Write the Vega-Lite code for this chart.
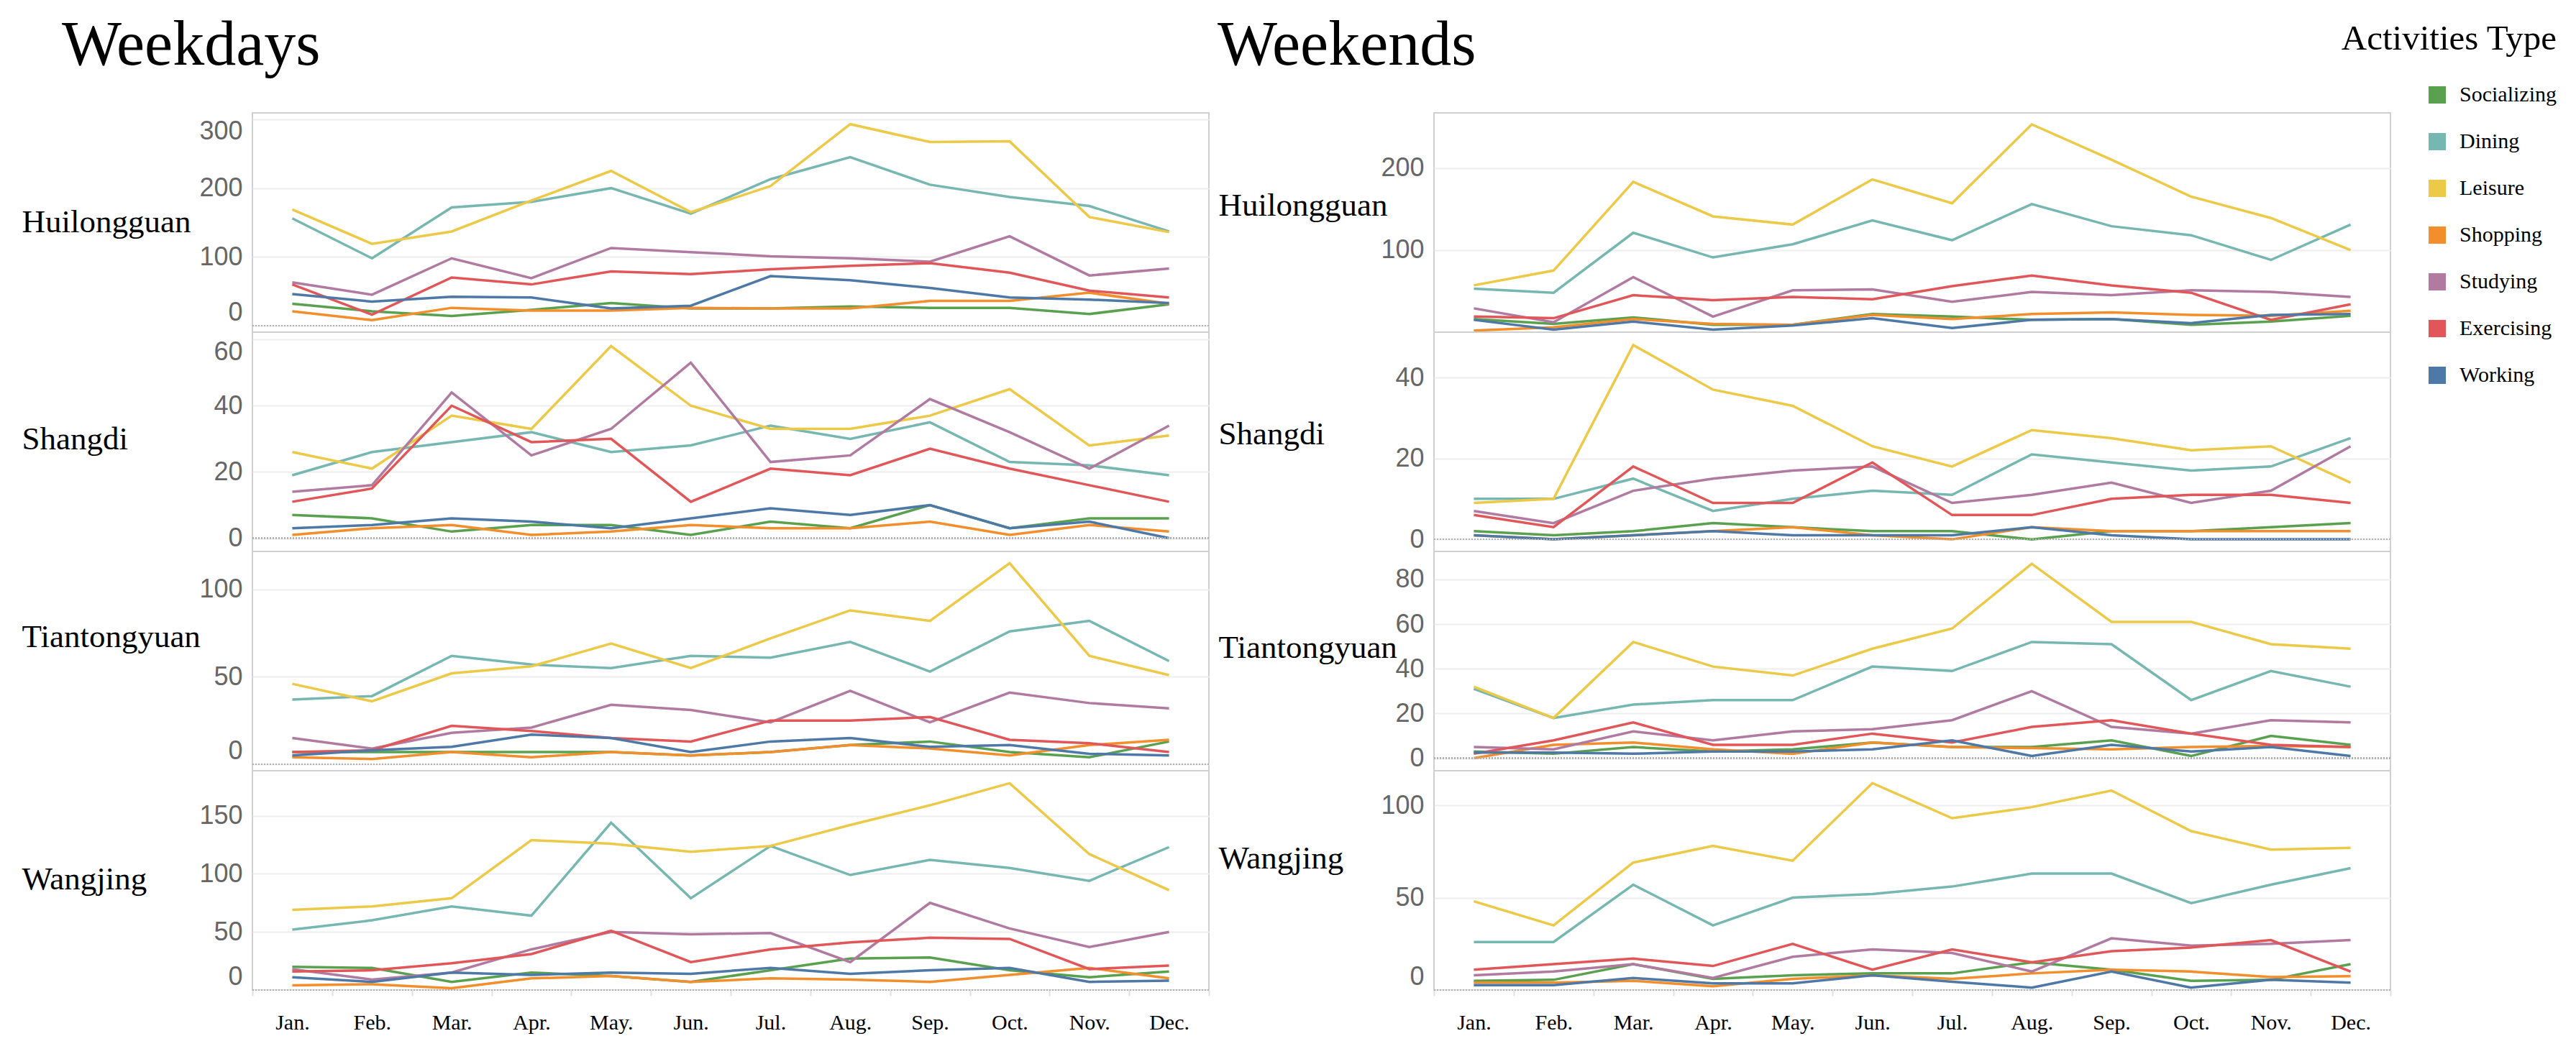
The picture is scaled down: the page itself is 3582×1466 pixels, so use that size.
{
"$schema":"https://vega.github.io/schema/vega-lite/v6.json",
"background":"white",
"padding":{"left":29,"top":20,"right":0,"bottom":0},
"datasets":{
"wd_hui":[
{"activity":"Socializing","month":"Jan.","value":32},{"activity":"Socializing","month":"Feb.","value":21},{"activity":"Socializing","month":"Mar.","value":14},{"activity":"Socializing","month":"Apr.","value":23},{"activity":"Socializing","month":"May.","value":33},{"activity":"Socializing","month":"Jun.","value":25},{"activity":"Socializing","month":"Jul.","value":25},{"activity":"Socializing","month":"Aug.","value":28},{"activity":"Socializing","month":"Sep.","value":26},{"activity":"Socializing","month":"Oct.","value":26},{"activity":"Socializing","month":"Nov.","value":17},{"activity":"Socializing","month":"Dec.","value":31},
{"activity":"Dining","month":"Jan.","value":156},{"activity":"Dining","month":"Feb.","value":98},{"activity":"Dining","month":"Mar.","value":172},{"activity":"Dining","month":"Apr.","value":180},{"activity":"Dining","month":"May.","value":200},{"activity":"Dining","month":"Jun.","value":163},{"activity":"Dining","month":"Jul.","value":213},{"activity":"Dining","month":"Aug.","value":245},{"activity":"Dining","month":"Sep.","value":205},{"activity":"Dining","month":"Oct.","value":187},{"activity":"Dining","month":"Nov.","value":174},{"activity":"Dining","month":"Dec.","value":137},
{"activity":"Leisure","month":"Jan.","value":169},{"activity":"Leisure","month":"Feb.","value":119},{"activity":"Leisure","month":"Mar.","value":137},{"activity":"Leisure","month":"Apr.","value":182},{"activity":"Leisure","month":"May.","value":225},{"activity":"Leisure","month":"Jun.","value":165},{"activity":"Leisure","month":"Jul.","value":203},{"activity":"Leisure","month":"Aug.","value":293},{"activity":"Leisure","month":"Sep.","value":267},{"activity":"Leisure","month":"Oct.","value":268},{"activity":"Leisure","month":"Nov.","value":158},{"activity":"Leisure","month":"Dec.","value":136},
{"activity":"Shopping","month":"Jan.","value":21},{"activity":"Shopping","month":"Feb.","value":8},{"activity":"Shopping","month":"Mar.","value":26},{"activity":"Shopping","month":"Apr.","value":22},{"activity":"Shopping","month":"May.","value":22},{"activity":"Shopping","month":"Jun.","value":26},{"activity":"Shopping","month":"Jul.","value":25},{"activity":"Shopping","month":"Aug.","value":25},{"activity":"Shopping","month":"Sep.","value":36},{"activity":"Shopping","month":"Oct.","value":36},{"activity":"Shopping","month":"Nov.","value":48},{"activity":"Shopping","month":"Dec.","value":32},
{"activity":"Studying","month":"Jan.","value":63},{"activity":"Studying","month":"Feb.","value":45},{"activity":"Studying","month":"Mar.","value":98},{"activity":"Studying","month":"Apr.","value":69},{"activity":"Studying","month":"May.","value":113},{"activity":"Studying","month":"Jun.","value":107},{"activity":"Studying","month":"Jul.","value":101},{"activity":"Studying","month":"Aug.","value":98},{"activity":"Studying","month":"Sep.","value":93},{"activity":"Studying","month":"Oct.","value":130},{"activity":"Studying","month":"Nov.","value":73},{"activity":"Studying","month":"Dec.","value":83},
{"activity":"Exercising","month":"Jan.","value":60},{"activity":"Exercising","month":"Feb.","value":16},{"activity":"Exercising","month":"Mar.","value":70},{"activity":"Exercising","month":"Apr.","value":60},{"activity":"Exercising","month":"May.","value":79},{"activity":"Exercising","month":"Jun.","value":75},{"activity":"Exercising","month":"Jul.","value":82},{"activity":"Exercising","month":"Aug.","value":87},{"activity":"Exercising","month":"Sep.","value":91},{"activity":"Exercising","month":"Oct.","value":77},{"activity":"Exercising","month":"Nov.","value":51},{"activity":"Exercising","month":"Dec.","value":41},
{"activity":"Working","month":"Jan.","value":46},{"activity":"Working","month":"Feb.","value":35},{"activity":"Working","month":"Mar.","value":42},{"activity":"Working","month":"Apr.","value":41},{"activity":"Working","month":"May.","value":25},{"activity":"Working","month":"Jun.","value":29},{"activity":"Working","month":"Jul.","value":72},{"activity":"Working","month":"Aug.","value":66},{"activity":"Working","month":"Sep.","value":55},{"activity":"Working","month":"Oct.","value":41},{"activity":"Working","month":"Nov.","value":38},{"activity":"Working","month":"Dec.","value":33}
],
"wd_sha":[
{"activity":"Socializing","month":"Jan.","value":7},{"activity":"Socializing","month":"Feb.","value":6},{"activity":"Socializing","month":"Mar.","value":2},{"activity":"Socializing","month":"Apr.","value":4},{"activity":"Socializing","month":"May.","value":4},{"activity":"Socializing","month":"Jun.","value":1},{"activity":"Socializing","month":"Jul.","value":5},{"activity":"Socializing","month":"Aug.","value":3},{"activity":"Socializing","month":"Sep.","value":10},{"activity":"Socializing","month":"Oct.","value":3},{"activity":"Socializing","month":"Nov.","value":6},{"activity":"Socializing","month":"Dec.","value":6},
{"activity":"Dining","month":"Jan.","value":19},{"activity":"Dining","month":"Feb.","value":26},{"activity":"Dining","month":"Mar.","value":29},{"activity":"Dining","month":"Apr.","value":32},{"activity":"Dining","month":"May.","value":26},{"activity":"Dining","month":"Jun.","value":28},{"activity":"Dining","month":"Jul.","value":34},{"activity":"Dining","month":"Aug.","value":30},{"activity":"Dining","month":"Sep.","value":35},{"activity":"Dining","month":"Oct.","value":23},{"activity":"Dining","month":"Nov.","value":22},{"activity":"Dining","month":"Dec.","value":19},
{"activity":"Leisure","month":"Jan.","value":26},{"activity":"Leisure","month":"Feb.","value":21},{"activity":"Leisure","month":"Mar.","value":37},{"activity":"Leisure","month":"Apr.","value":33},{"activity":"Leisure","month":"May.","value":58},{"activity":"Leisure","month":"Jun.","value":40},{"activity":"Leisure","month":"Jul.","value":33},{"activity":"Leisure","month":"Aug.","value":33},{"activity":"Leisure","month":"Sep.","value":37},{"activity":"Leisure","month":"Oct.","value":45},{"activity":"Leisure","month":"Nov.","value":28},{"activity":"Leisure","month":"Dec.","value":31},
{"activity":"Shopping","month":"Jan.","value":1},{"activity":"Shopping","month":"Feb.","value":3},{"activity":"Shopping","month":"Mar.","value":4},{"activity":"Shopping","month":"Apr.","value":1},{"activity":"Shopping","month":"May.","value":2},{"activity":"Shopping","month":"Jun.","value":4},{"activity":"Shopping","month":"Jul.","value":3},{"activity":"Shopping","month":"Aug.","value":3},{"activity":"Shopping","month":"Sep.","value":5},{"activity":"Shopping","month":"Oct.","value":1},{"activity":"Shopping","month":"Nov.","value":4},{"activity":"Shopping","month":"Dec.","value":2},
{"activity":"Studying","month":"Jan.","value":14},{"activity":"Studying","month":"Feb.","value":16},{"activity":"Studying","month":"Mar.","value":44},{"activity":"Studying","month":"Apr.","value":25},{"activity":"Studying","month":"May.","value":33},{"activity":"Studying","month":"Jun.","value":53},{"activity":"Studying","month":"Jul.","value":23},{"activity":"Studying","month":"Aug.","value":25},{"activity":"Studying","month":"Sep.","value":42},{"activity":"Studying","month":"Oct.","value":32},{"activity":"Studying","month":"Nov.","value":21},{"activity":"Studying","month":"Dec.","value":34},
{"activity":"Exercising","month":"Jan.","value":11},{"activity":"Exercising","month":"Feb.","value":15},{"activity":"Exercising","month":"Mar.","value":40},{"activity":"Exercising","month":"Apr.","value":29},{"activity":"Exercising","month":"May.","value":30},{"activity":"Exercising","month":"Jun.","value":11},{"activity":"Exercising","month":"Jul.","value":21},{"activity":"Exercising","month":"Aug.","value":19},{"activity":"Exercising","month":"Sep.","value":27},{"activity":"Exercising","month":"Oct.","value":21},{"activity":"Exercising","month":"Nov.","value":16},{"activity":"Exercising","month":"Dec.","value":11},
{"activity":"Working","month":"Jan.","value":3},{"activity":"Working","month":"Feb.","value":4},{"activity":"Working","month":"Mar.","value":6},{"activity":"Working","month":"Apr.","value":5},{"activity":"Working","month":"May.","value":3},{"activity":"Working","month":"Jun.","value":6},{"activity":"Working","month":"Jul.","value":9},{"activity":"Working","month":"Aug.","value":7},{"activity":"Working","month":"Sep.","value":10},{"activity":"Working","month":"Oct.","value":3},{"activity":"Working","month":"Nov.","value":5},{"activity":"Working","month":"Dec.","value":0}
],
"wd_tia":[
{"activity":"Socializing","month":"Jan.","value":7},{"activity":"Socializing","month":"Feb.","value":7},{"activity":"Socializing","month":"Mar.","value":7},{"activity":"Socializing","month":"Apr.","value":7},{"activity":"Socializing","month":"May.","value":7},{"activity":"Socializing","month":"Jun.","value":5},{"activity":"Socializing","month":"Jul.","value":7},{"activity":"Socializing","month":"Aug.","value":11},{"activity":"Socializing","month":"Sep.","value":13},{"activity":"Socializing","month":"Oct.","value":7},{"activity":"Socializing","month":"Nov.","value":4},{"activity":"Socializing","month":"Dec.","value":13},
{"activity":"Dining","month":"Jan.","value":37},{"activity":"Dining","month":"Feb.","value":39},{"activity":"Dining","month":"Mar.","value":62},{"activity":"Dining","month":"Apr.","value":57},{"activity":"Dining","month":"May.","value":55},{"activity":"Dining","month":"Jun.","value":62},{"activity":"Dining","month":"Jul.","value":61},{"activity":"Dining","month":"Aug.","value":70},{"activity":"Dining","month":"Sep.","value":53},{"activity":"Dining","month":"Oct.","value":76},{"activity":"Dining","month":"Nov.","value":82},{"activity":"Dining","month":"Dec.","value":59},
{"activity":"Leisure","month":"Jan.","value":46},{"activity":"Leisure","month":"Feb.","value":36},{"activity":"Leisure","month":"Mar.","value":52},{"activity":"Leisure","month":"Apr.","value":56},{"activity":"Leisure","month":"May.","value":69},{"activity":"Leisure","month":"Jun.","value":55},{"activity":"Leisure","month":"Jul.","value":72},{"activity":"Leisure","month":"Aug.","value":88},{"activity":"Leisure","month":"Sep.","value":82},{"activity":"Leisure","month":"Oct.","value":115},{"activity":"Leisure","month":"Nov.","value":62},{"activity":"Leisure","month":"Dec.","value":51},
{"activity":"Shopping","month":"Jan.","value":4},{"activity":"Shopping","month":"Feb.","value":3},{"activity":"Shopping","month":"Mar.","value":7},{"activity":"Shopping","month":"Apr.","value":4},{"activity":"Shopping","month":"May.","value":7},{"activity":"Shopping","month":"Jun.","value":5},{"activity":"Shopping","month":"Jul.","value":7},{"activity":"Shopping","month":"Aug.","value":11},{"activity":"Shopping","month":"Sep.","value":9},{"activity":"Shopping","month":"Oct.","value":5},{"activity":"Shopping","month":"Nov.","value":11},{"activity":"Shopping","month":"Dec.","value":14},
{"activity":"Studying","month":"Jan.","value":15},{"activity":"Studying","month":"Feb.","value":9},{"activity":"Studying","month":"Mar.","value":18},{"activity":"Studying","month":"Apr.","value":21},{"activity":"Studying","month":"May.","value":34},{"activity":"Studying","month":"Jun.","value":31},{"activity":"Studying","month":"Jul.","value":24},{"activity":"Studying","month":"Aug.","value":42},{"activity":"Studying","month":"Sep.","value":24},{"activity":"Studying","month":"Oct.","value":41},{"activity":"Studying","month":"Nov.","value":35},{"activity":"Studying","month":"Dec.","value":32},
{"activity":"Exercising","month":"Jan.","value":7},{"activity":"Exercising","month":"Feb.","value":8},{"activity":"Exercising","month":"Mar.","value":22},{"activity":"Exercising","month":"Apr.","value":19},{"activity":"Exercising","month":"May.","value":15},{"activity":"Exercising","month":"Jun.","value":13},{"activity":"Exercising","month":"Jul.","value":25},{"activity":"Exercising","month":"Aug.","value":25},{"activity":"Exercising","month":"Sep.","value":27},{"activity":"Exercising","month":"Oct.","value":14},{"activity":"Exercising","month":"Nov.","value":12},{"activity":"Exercising","month":"Dec.","value":7},
{"activity":"Working","month":"Jan.","value":5},{"activity":"Working","month":"Feb.","value":8},{"activity":"Working","month":"Mar.","value":10},{"activity":"Working","month":"Apr.","value":17},{"activity":"Working","month":"May.","value":15},{"activity":"Working","month":"Jun.","value":7},{"activity":"Working","month":"Jul.","value":13},{"activity":"Working","month":"Aug.","value":15},{"activity":"Working","month":"Sep.","value":10},{"activity":"Working","month":"Oct.","value":11},{"activity":"Working","month":"Nov.","value":6},{"activity":"Working","month":"Dec.","value":5}
],
"wd_wan":[
{"activity":"Socializing","month":"Jan.","value":20},{"activity":"Socializing","month":"Feb.","value":19},{"activity":"Socializing","month":"Mar.","value":7},{"activity":"Socializing","month":"Apr.","value":15},{"activity":"Socializing","month":"May.","value":12},{"activity":"Socializing","month":"Jun.","value":7},{"activity":"Socializing","month":"Jul.","value":17},{"activity":"Socializing","month":"Aug.","value":27},{"activity":"Socializing","month":"Sep.","value":28},{"activity":"Socializing","month":"Oct.","value":17},{"activity":"Socializing","month":"Nov.","value":11},{"activity":"Socializing","month":"Dec.","value":16},
{"activity":"Dining","month":"Jan.","value":52},{"activity":"Dining","month":"Feb.","value":60},{"activity":"Dining","month":"Mar.","value":72},{"activity":"Dining","month":"Apr.","value":64},{"activity":"Dining","month":"May.","value":144},{"activity":"Dining","month":"Jun.","value":79},{"activity":"Dining","month":"Jul.","value":124},{"activity":"Dining","month":"Aug.","value":99},{"activity":"Dining","month":"Sep.","value":112},{"activity":"Dining","month":"Oct.","value":105},{"activity":"Dining","month":"Nov.","value":94},{"activity":"Dining","month":"Dec.","value":123},
{"activity":"Leisure","month":"Jan.","value":69},{"activity":"Leisure","month":"Feb.","value":72},{"activity":"Leisure","month":"Mar.","value":79},{"activity":"Leisure","month":"Apr.","value":129},{"activity":"Leisure","month":"May.","value":126},{"activity":"Leisure","month":"Jun.","value":119},{"activity":"Leisure","month":"Jul.","value":124},{"activity":"Leisure","month":"Aug.","value":142},{"activity":"Leisure","month":"Sep.","value":159},{"activity":"Leisure","month":"Oct.","value":178},{"activity":"Leisure","month":"Nov.","value":117},{"activity":"Leisure","month":"Dec.","value":86},
{"activity":"Shopping","month":"Jan.","value":4},{"activity":"Shopping","month":"Feb.","value":5},{"activity":"Shopping","month":"Mar.","value":1.5},{"activity":"Shopping","month":"Apr.","value":10},{"activity":"Shopping","month":"May.","value":12},{"activity":"Shopping","month":"Jun.","value":7},{"activity":"Shopping","month":"Jul.","value":10},{"activity":"Shopping","month":"Aug.","value":9},{"activity":"Shopping","month":"Sep.","value":7},{"activity":"Shopping","month":"Oct.","value":13},{"activity":"Shopping","month":"Nov.","value":19},{"activity":"Shopping","month":"Dec.","value":10},
{"activity":"Studying","month":"Jan.","value":18},{"activity":"Studying","month":"Feb.","value":9},{"activity":"Studying","month":"Mar.","value":15},{"activity":"Studying","month":"Apr.","value":35},{"activity":"Studying","month":"May.","value":50},{"activity":"Studying","month":"Jun.","value":48},{"activity":"Studying","month":"Jul.","value":49},{"activity":"Studying","month":"Aug.","value":24},{"activity":"Studying","month":"Sep.","value":75},{"activity":"Studying","month":"Oct.","value":53},{"activity":"Studying","month":"Nov.","value":37},{"activity":"Studying","month":"Dec.","value":50},
{"activity":"Exercising","month":"Jan.","value":16},{"activity":"Exercising","month":"Feb.","value":17},{"activity":"Exercising","month":"Mar.","value":23},{"activity":"Exercising","month":"Apr.","value":31},{"activity":"Exercising","month":"May.","value":51},{"activity":"Exercising","month":"Jun.","value":24},{"activity":"Exercising","month":"Jul.","value":35},{"activity":"Exercising","month":"Aug.","value":41},{"activity":"Exercising","month":"Sep.","value":45},{"activity":"Exercising","month":"Oct.","value":44},{"activity":"Exercising","month":"Nov.","value":18},{"activity":"Exercising","month":"Dec.","value":21},
{"activity":"Working","month":"Jan.","value":11},{"activity":"Working","month":"Feb.","value":7},{"activity":"Working","month":"Mar.","value":15},{"activity":"Working","month":"Apr.","value":13},{"activity":"Working","month":"May.","value":15},{"activity":"Working","month":"Jun.","value":14},{"activity":"Working","month":"Jul.","value":19},{"activity":"Working","month":"Aug.","value":14},{"activity":"Working","month":"Sep.","value":17},{"activity":"Working","month":"Oct.","value":19},{"activity":"Working","month":"Nov.","value":7},{"activity":"Working","month":"Dec.","value":8}
],
"we_hui":[
{"activity":"Socializing","month":"Jan.","value":16},{"activity":"Socializing","month":"Feb.","value":10},{"activity":"Socializing","month":"Mar.","value":18},{"activity":"Socializing","month":"Apr.","value":9},{"activity":"Socializing","month":"May.","value":9},{"activity":"Socializing","month":"Jun.","value":22},{"activity":"Socializing","month":"Jul.","value":19},{"activity":"Socializing","month":"Aug.","value":15},{"activity":"Socializing","month":"Sep.","value":16},{"activity":"Socializing","month":"Oct.","value":9},{"activity":"Socializing","month":"Nov.","value":13},{"activity":"Socializing","month":"Dec.","value":20},
{"activity":"Dining","month":"Jan.","value":53},{"activity":"Dining","month":"Feb.","value":48},{"activity":"Dining","month":"Mar.","value":121},{"activity":"Dining","month":"Apr.","value":91},{"activity":"Dining","month":"May.","value":107},{"activity":"Dining","month":"Jun.","value":136},{"activity":"Dining","month":"Jul.","value":112},{"activity":"Dining","month":"Aug.","value":156},{"activity":"Dining","month":"Sep.","value":129},{"activity":"Dining","month":"Oct.","value":118},{"activity":"Dining","month":"Nov.","value":88},{"activity":"Dining","month":"Dec.","value":131},
{"activity":"Leisure","month":"Jan.","value":57},{"activity":"Leisure","month":"Feb.","value":75},{"activity":"Leisure","month":"Mar.","value":183},{"activity":"Leisure","month":"Apr.","value":141},{"activity":"Leisure","month":"May.","value":131},{"activity":"Leisure","month":"Jun.","value":186},{"activity":"Leisure","month":"Jul.","value":157},{"activity":"Leisure","month":"Aug.","value":253},{"activity":"Leisure","month":"Sep.","value":210},{"activity":"Leisure","month":"Oct.","value":165},{"activity":"Leisure","month":"Nov.","value":139},{"activity":"Leisure","month":"Dec.","value":100},
{"activity":"Shopping","month":"Jan.","value":2},{"activity":"Shopping","month":"Feb.","value":6},{"activity":"Shopping","month":"Mar.","value":16},{"activity":"Shopping","month":"Apr.","value":10},{"activity":"Shopping","month":"May.","value":9},{"activity":"Shopping","month":"Jun.","value":21},{"activity":"Shopping","month":"Jul.","value":16},{"activity":"Shopping","month":"Aug.","value":22},{"activity":"Shopping","month":"Sep.","value":24},{"activity":"Shopping","month":"Oct.","value":21},{"activity":"Shopping","month":"Nov.","value":20},{"activity":"Shopping","month":"Dec.","value":26},
{"activity":"Studying","month":"Jan.","value":29},{"activity":"Studying","month":"Feb.","value":12},{"activity":"Studying","month":"Mar.","value":67},{"activity":"Studying","month":"Apr.","value":19},{"activity":"Studying","month":"May.","value":51},{"activity":"Studying","month":"Jun.","value":52},{"activity":"Studying","month":"Jul.","value":37},{"activity":"Studying","month":"Aug.","value":49},{"activity":"Studying","month":"Sep.","value":45},{"activity":"Studying","month":"Oct.","value":51},{"activity":"Studying","month":"Nov.","value":49},{"activity":"Studying","month":"Dec.","value":43},
{"activity":"Exercising","month":"Jan.","value":19},{"activity":"Exercising","month":"Feb.","value":17},{"activity":"Exercising","month":"Mar.","value":45},{"activity":"Exercising","month":"Apr.","value":39},{"activity":"Exercising","month":"May.","value":43},{"activity":"Exercising","month":"Jun.","value":40},{"activity":"Exercising","month":"Jul.","value":56},{"activity":"Exercising","month":"Aug.","value":69},{"activity":"Exercising","month":"Sep.","value":57},{"activity":"Exercising","month":"Oct.","value":48},{"activity":"Exercising","month":"Nov.","value":15},{"activity":"Exercising","month":"Dec.","value":34},
{"activity":"Working","month":"Jan.","value":15},{"activity":"Working","month":"Feb.","value":3},{"activity":"Working","month":"Mar.","value":13},{"activity":"Working","month":"Apr.","value":3},{"activity":"Working","month":"May.","value":8},{"activity":"Working","month":"Jun.","value":17},{"activity":"Working","month":"Jul.","value":5},{"activity":"Working","month":"Aug.","value":15},{"activity":"Working","month":"Sep.","value":16},{"activity":"Working","month":"Oct.","value":11},{"activity":"Working","month":"Nov.","value":21},{"activity":"Working","month":"Dec.","value":22}
],
"we_sha":[
{"activity":"Socializing","month":"Jan.","value":2},{"activity":"Socializing","month":"Feb.","value":1},{"activity":"Socializing","month":"Mar.","value":2},{"activity":"Socializing","month":"Apr.","value":4},{"activity":"Socializing","month":"May.","value":3},{"activity":"Socializing","month":"Jun.","value":2},{"activity":"Socializing","month":"Jul.","value":2},{"activity":"Socializing","month":"Aug.","value":0},{"activity":"Socializing","month":"Sep.","value":2},{"activity":"Socializing","month":"Oct.","value":2},{"activity":"Socializing","month":"Nov.","value":3},{"activity":"Socializing","month":"Dec.","value":4},
{"activity":"Dining","month":"Jan.","value":10},{"activity":"Dining","month":"Feb.","value":10},{"activity":"Dining","month":"Mar.","value":15},{"activity":"Dining","month":"Apr.","value":7},{"activity":"Dining","month":"May.","value":10},{"activity":"Dining","month":"Jun.","value":12},{"activity":"Dining","month":"Jul.","value":11},{"activity":"Dining","month":"Aug.","value":21},{"activity":"Dining","month":"Sep.","value":19},{"activity":"Dining","month":"Oct.","value":17},{"activity":"Dining","month":"Nov.","value":18},{"activity":"Dining","month":"Dec.","value":25},
{"activity":"Leisure","month":"Jan.","value":9},{"activity":"Leisure","month":"Feb.","value":10},{"activity":"Leisure","month":"Mar.","value":48},{"activity":"Leisure","month":"Apr.","value":37},{"activity":"Leisure","month":"May.","value":33},{"activity":"Leisure","month":"Jun.","value":23},{"activity":"Leisure","month":"Jul.","value":18},{"activity":"Leisure","month":"Aug.","value":27},{"activity":"Leisure","month":"Sep.","value":25},{"activity":"Leisure","month":"Oct.","value":22},{"activity":"Leisure","month":"Nov.","value":23},{"activity":"Leisure","month":"Dec.","value":14},
{"activity":"Shopping","month":"Jan.","value":1},{"activity":"Shopping","month":"Feb.","value":0},{"activity":"Shopping","month":"Mar.","value":1},{"activity":"Shopping","month":"Apr.","value":2},{"activity":"Shopping","month":"May.","value":3},{"activity":"Shopping","month":"Jun.","value":1},{"activity":"Shopping","month":"Jul.","value":0},{"activity":"Shopping","month":"Aug.","value":3},{"activity":"Shopping","month":"Sep.","value":2},{"activity":"Shopping","month":"Oct.","value":2},{"activity":"Shopping","month":"Nov.","value":2},{"activity":"Shopping","month":"Dec.","value":2},
{"activity":"Studying","month":"Jan.","value":7},{"activity":"Studying","month":"Feb.","value":4},{"activity":"Studying","month":"Mar.","value":12},{"activity":"Studying","month":"Apr.","value":15},{"activity":"Studying","month":"May.","value":17},{"activity":"Studying","month":"Jun.","value":18},{"activity":"Studying","month":"Jul.","value":9},{"activity":"Studying","month":"Aug.","value":11},{"activity":"Studying","month":"Sep.","value":14},{"activity":"Studying","month":"Oct.","value":9},{"activity":"Studying","month":"Nov.","value":12},{"activity":"Studying","month":"Dec.","value":23},
{"activity":"Exercising","month":"Jan.","value":6},{"activity":"Exercising","month":"Feb.","value":3},{"activity":"Exercising","month":"Mar.","value":18},{"activity":"Exercising","month":"Apr.","value":9},{"activity":"Exercising","month":"May.","value":9},{"activity":"Exercising","month":"Jun.","value":19},{"activity":"Exercising","month":"Jul.","value":6},{"activity":"Exercising","month":"Aug.","value":6},{"activity":"Exercising","month":"Sep.","value":10},{"activity":"Exercising","month":"Oct.","value":11},{"activity":"Exercising","month":"Nov.","value":11},{"activity":"Exercising","month":"Dec.","value":9},
{"activity":"Working","month":"Jan.","value":1},{"activity":"Working","month":"Feb.","value":0},{"activity":"Working","month":"Mar.","value":1},{"activity":"Working","month":"Apr.","value":2},{"activity":"Working","month":"May.","value":1},{"activity":"Working","month":"Jun.","value":1},{"activity":"Working","month":"Jul.","value":1},{"activity":"Working","month":"Aug.","value":3},{"activity":"Working","month":"Sep.","value":1},{"activity":"Working","month":"Oct.","value":0},{"activity":"Working","month":"Nov.","value":0},{"activity":"Working","month":"Dec.","value":0}
],
"we_tia":[
{"activity":"Socializing","month":"Jan.","value":3},{"activity":"Socializing","month":"Feb.","value":2},{"activity":"Socializing","month":"Mar.","value":5},{"activity":"Socializing","month":"Apr.","value":3},{"activity":"Socializing","month":"May.","value":4},{"activity":"Socializing","month":"Jun.","value":7},{"activity":"Socializing","month":"Jul.","value":5},{"activity":"Socializing","month":"Aug.","value":5},{"activity":"Socializing","month":"Sep.","value":8},{"activity":"Socializing","month":"Oct.","value":1},{"activity":"Socializing","month":"Nov.","value":10},{"activity":"Socializing","month":"Dec.","value":6},
{"activity":"Dining","month":"Jan.","value":31},{"activity":"Dining","month":"Feb.","value":18},{"activity":"Dining","month":"Mar.","value":24},{"activity":"Dining","month":"Apr.","value":26},{"activity":"Dining","month":"May.","value":26},{"activity":"Dining","month":"Jun.","value":41},{"activity":"Dining","month":"Jul.","value":39},{"activity":"Dining","month":"Aug.","value":52},{"activity":"Dining","month":"Sep.","value":51},{"activity":"Dining","month":"Oct.","value":26},{"activity":"Dining","month":"Nov.","value":39},{"activity":"Dining","month":"Dec.","value":32},
{"activity":"Leisure","month":"Jan.","value":32},{"activity":"Leisure","month":"Feb.","value":18},{"activity":"Leisure","month":"Mar.","value":52},{"activity":"Leisure","month":"Apr.","value":41},{"activity":"Leisure","month":"May.","value":37},{"activity":"Leisure","month":"Jun.","value":49},{"activity":"Leisure","month":"Jul.","value":58},{"activity":"Leisure","month":"Aug.","value":87},{"activity":"Leisure","month":"Sep.","value":61},{"activity":"Leisure","month":"Oct.","value":61},{"activity":"Leisure","month":"Nov.","value":51},{"activity":"Leisure","month":"Dec.","value":49},
{"activity":"Shopping","month":"Jan.","value":0},{"activity":"Shopping","month":"Feb.","value":6},{"activity":"Shopping","month":"Mar.","value":7},{"activity":"Shopping","month":"Apr.","value":4},{"activity":"Shopping","month":"May.","value":2},{"activity":"Shopping","month":"Jun.","value":7},{"activity":"Shopping","month":"Jul.","value":5},{"activity":"Shopping","month":"Aug.","value":4.5},{"activity":"Shopping","month":"Sep.","value":4},{"activity":"Shopping","month":"Oct.","value":5},{"activity":"Shopping","month":"Nov.","value":5.5},{"activity":"Shopping","month":"Dec.","value":5},
{"activity":"Studying","month":"Jan.","value":5},{"activity":"Studying","month":"Feb.","value":4},{"activity":"Studying","month":"Mar.","value":12},{"activity":"Studying","month":"Apr.","value":8},{"activity":"Studying","month":"May.","value":12},{"activity":"Studying","month":"Jun.","value":13},{"activity":"Studying","month":"Jul.","value":17},{"activity":"Studying","month":"Aug.","value":30},{"activity":"Studying","month":"Sep.","value":14},{"activity":"Studying","month":"Oct.","value":11},{"activity":"Studying","month":"Nov.","value":17},{"activity":"Studying","month":"Dec.","value":16},
{"activity":"Exercising","month":"Jan.","value":2},{"activity":"Exercising","month":"Feb.","value":8},{"activity":"Exercising","month":"Mar.","value":16},{"activity":"Exercising","month":"Apr.","value":6},{"activity":"Exercising","month":"May.","value":6},{"activity":"Exercising","month":"Jun.","value":11},{"activity":"Exercising","month":"Jul.","value":7},{"activity":"Exercising","month":"Aug.","value":14},{"activity":"Exercising","month":"Sep.","value":17},{"activity":"Exercising","month":"Oct.","value":11},{"activity":"Exercising","month":"Nov.","value":6},{"activity":"Exercising","month":"Dec.","value":5},
{"activity":"Working","month":"Jan.","value":2.5},{"activity":"Working","month":"Feb.","value":2.5},{"activity":"Working","month":"Mar.","value":2},{"activity":"Working","month":"Apr.","value":3},{"activity":"Working","month":"May.","value":3},{"activity":"Working","month":"Jun.","value":4},{"activity":"Working","month":"Jul.","value":8},{"activity":"Working","month":"Aug.","value":1},{"activity":"Working","month":"Sep.","value":6},{"activity":"Working","month":"Oct.","value":3},{"activity":"Working","month":"Nov.","value":5},{"activity":"Working","month":"Dec.","value":1}
],
"we_wan":[
{"activity":"Socializing","month":"Jan.","value":5},{"activity":"Socializing","month":"Feb.","value":5.5},{"activity":"Socializing","month":"Mar.","value":14},{"activity":"Socializing","month":"Apr.","value":6},{"activity":"Socializing","month":"May.","value":8},{"activity":"Socializing","month":"Jun.","value":9},{"activity":"Socializing","month":"Jul.","value":9},{"activity":"Socializing","month":"Aug.","value":15},{"activity":"Socializing","month":"Sep.","value":11},{"activity":"Socializing","month":"Oct.","value":5},{"activity":"Socializing","month":"Nov.","value":5.5},{"activity":"Socializing","month":"Dec.","value":14},
{"activity":"Dining","month":"Jan.","value":26},{"activity":"Dining","month":"Feb.","value":26},{"activity":"Dining","month":"Mar.","value":57},{"activity":"Dining","month":"Apr.","value":35},{"activity":"Dining","month":"May.","value":50},{"activity":"Dining","month":"Jun.","value":52},{"activity":"Dining","month":"Jul.","value":56},{"activity":"Dining","month":"Aug.","value":63},{"activity":"Dining","month":"Sep.","value":63},{"activity":"Dining","month":"Oct.","value":47},{"activity":"Dining","month":"Nov.","value":57},{"activity":"Dining","month":"Dec.","value":66},
{"activity":"Leisure","month":"Jan.","value":48},{"activity":"Leisure","month":"Feb.","value":35},{"activity":"Leisure","month":"Mar.","value":69},{"activity":"Leisure","month":"Apr.","value":78},{"activity":"Leisure","month":"May.","value":70},{"activity":"Leisure","month":"Jun.","value":112},{"activity":"Leisure","month":"Jul.","value":93},{"activity":"Leisure","month":"Aug.","value":99},{"activity":"Leisure","month":"Sep.","value":108},{"activity":"Leisure","month":"Oct.","value":86},{"activity":"Leisure","month":"Nov.","value":76},{"activity":"Leisure","month":"Dec.","value":77},
{"activity":"Shopping","month":"Jan.","value":4},{"activity":"Shopping","month":"Feb.","value":4},{"activity":"Shopping","month":"Mar.","value":5},{"activity":"Shopping","month":"Apr.","value":2},{"activity":"Shopping","month":"May.","value":6},{"activity":"Shopping","month":"Jun.","value":8},{"activity":"Shopping","month":"Jul.","value":6},{"activity":"Shopping","month":"Aug.","value":9},{"activity":"Shopping","month":"Sep.","value":11},{"activity":"Shopping","month":"Oct.","value":10},{"activity":"Shopping","month":"Nov.","value":7},{"activity":"Shopping","month":"Dec.","value":7.5},
{"activity":"Studying","month":"Jan.","value":8},{"activity":"Studying","month":"Feb.","value":10},{"activity":"Studying","month":"Mar.","value":14},{"activity":"Studying","month":"Apr.","value":6.5},{"activity":"Studying","month":"May.","value":18},{"activity":"Studying","month":"Jun.","value":22},{"activity":"Studying","month":"Jul.","value":20},{"activity":"Studying","month":"Aug.","value":10},{"activity":"Studying","month":"Sep.","value":28},{"activity":"Studying","month":"Oct.","value":24},{"activity":"Studying","month":"Nov.","value":25},{"activity":"Studying","month":"Dec.","value":27},
{"activity":"Exercising","month":"Jan.","value":11},{"activity":"Exercising","month":"Feb.","value":14},{"activity":"Exercising","month":"Mar.","value":17},{"activity":"Exercising","month":"Apr.","value":13},{"activity":"Exercising","month":"May.","value":25},{"activity":"Exercising","month":"Jun.","value":11},{"activity":"Exercising","month":"Jul.","value":22},{"activity":"Exercising","month":"Aug.","value":15},{"activity":"Exercising","month":"Sep.","value":21},{"activity":"Exercising","month":"Oct.","value":23},{"activity":"Exercising","month":"Nov.","value":27},{"activity":"Exercising","month":"Dec.","value":10},
{"activity":"Working","month":"Jan.","value":2.6},{"activity":"Working","month":"Feb.","value":2.6},{"activity":"Working","month":"Mar.","value":6.5},{"activity":"Working","month":"Apr.","value":3.6},{"activity":"Working","month":"May.","value":3.6},{"activity":"Working","month":"Jun.","value":8},{"activity":"Working","month":"Jul.","value":4.5},{"activity":"Working","month":"Aug.","value":1.3},{"activity":"Working","month":"Sep.","value":10},{"activity":"Working","month":"Oct.","value":1.3},{"activity":"Working","month":"Nov.","value":5.5},{"activity":"Working","month":"Dec.","value":4}
]
},
"spacing":10,
"hconcat":[
{"title":{"text":"Weekdays","dx":57,"offset":48},
 "spacing":0,"bounds":"flush",
 "vconcat":[
  {"width":1330,"height":305,"data":{"name":"wd_hui"},"layer":[
   {"mark":{"type":"line","strokeWidth":3.5},"encoding":{
    "x":{"field":"month","type":"ordinal","sort":["Jan.","Feb.","Mar.","Apr.","May.","Jun.","Jul.","Aug.","Sep.","Oct.","Nov.","Dec."],"scale":{"type":"band","paddingInner":0,"paddingOuter":0},"bandPosition":0.5,"axis":null},
    "y":{"field":"value","type":"quantitative","scale":{"domain":[-9.4,309.4],"nice":false,"zero":false},"axis":{"title":"Huilongguan","titleX":-321,"titleY":151,"values":[0,100,200,300]}},
    "color":{"field":"activity","type":"nominal","scale":{"domain":["Socializing","Dining","Leisure","Shopping","Studying","Exercising","Working"],"range":["#59a14f","#76b7b2","#edc948","#f28e2b","#b07aa1","#e15759","#4e79a7"]},"legend":{"title":"Activities Type","orient":"none","legendX":2904,"legendY":-127,"encode":{"symbols":{"update":{"fill":{"scale":"color","field":"value"},"fillOpacity":{"value":1},"strokeWidth":{"value":0}}}}}}}},
   {"mark":{"type":"rule","color":"#b0b0b0","strokeDash":[2,2],"strokeWidth":2},"encoding":{"y":{"datum":0,"type":"quantitative"}}}
  ]},
  {"width":1330,"height":305,"data":{"name":"wd_sha"},"layer":[
   {"mark":{"type":"line","strokeWidth":3.5},"encoding":{
    "x":{"field":"month","type":"ordinal","sort":["Jan.","Feb.","Mar.","Apr.","May.","Jun.","Jul.","Aug.","Sep.","Oct.","Nov.","Dec."],"scale":{"type":"band","paddingInner":0,"paddingOuter":0},"bandPosition":0.5,"axis":null},
    "y":{"field":"value","type":"quantitative","scale":{"domain":[-4,62.2],"nice":false,"zero":false},"axis":{"title":"Shangdi","titleX":-321,"titleY":148,"values":[0,20,40,60]}},
    "color":{"field":"activity","type":"nominal","scale":{"domain":["Socializing","Dining","Leisure","Shopping","Studying","Exercising","Working"],"range":["#59a14f","#76b7b2","#edc948","#f28e2b","#b07aa1","#e15759","#4e79a7"]}}}},
   {"mark":{"type":"rule","color":"#b0b0b0","strokeDash":[2,2],"strokeWidth":2},"encoding":{"y":{"datum":0,"type":"quantitative"}}}
  ]},
  {"width":1330,"height":305,"data":{"name":"wd_tia"},"layer":[
   {"mark":{"type":"line","strokeWidth":3.5},"encoding":{
    "x":{"field":"month","type":"ordinal","sort":["Jan.","Feb.","Mar.","Apr.","May.","Jun.","Jul.","Aug.","Sep.","Oct.","Nov.","Dec."],"scale":{"type":"band","paddingInner":0,"paddingOuter":0},"bandPosition":0.5,"axis":null},
    "y":{"field":"value","type":"quantitative","scale":{"domain":[-3.7,121.7],"nice":false,"zero":false},"axis":{"title":"Tiantongyuan","titleX":-321,"titleY":118,"values":[0,50,100]}},
    "color":{"field":"activity","type":"nominal","scale":{"domain":["Socializing","Dining","Leisure","Shopping","Studying","Exercising","Working"],"range":["#59a14f","#76b7b2","#edc948","#f28e2b","#b07aa1","#e15759","#4e79a7"]}}}},
   {"mark":{"type":"rule","color":"#b0b0b0","strokeDash":[2,2],"strokeWidth":2},"encoding":{"y":{"datum":0,"type":"quantitative"}}}
  ]},
  {"width":1330,"height":305,"data":{"name":"wd_wan"},"layer":[
   {"mark":{"type":"line","strokeWidth":3.5},"encoding":{
    "x":{"field":"month","type":"ordinal","sort":["Jan.","Feb.","Mar.","Apr.","May.","Jun.","Jul.","Aug.","Sep.","Oct.","Nov.","Dec."],"scale":{"type":"band","paddingInner":0,"paddingOuter":0},"bandPosition":0.5,"axis":{"title":null}},
    "y":{"field":"value","type":"quantitative","scale":{"domain":[0,188.75],"nice":false,"zero":false},"axis":{"title":"Wangjing","titleX":-321,"titleY":150,"values":[0,50,100,150]}},
    "color":{"field":"activity","type":"nominal","scale":{"domain":["Socializing","Dining","Leisure","Shopping","Studying","Exercising","Working"],"range":["#59a14f","#76b7b2","#edc948","#f28e2b","#b07aa1","#e15759","#4e79a7"]}}}},
   {"mark":{"type":"rule","color":"#b0b0b0","strokeDash":[2,2],"strokeWidth":2},"encoding":{"y":{"datum":0,"type":"quantitative"}}}
  ]}
 ]},
{"title":{"text":"Weekends","offset":48},
 "spacing":0,"bounds":"flush",
 "vconcat":[
  {"width":1330,"height":305,"data":{"name":"we_hui"},"layer":[
   {"mark":{"type":"line","strokeWidth":3.5},"encoding":{
    "x":{"field":"month","type":"ordinal","sort":["Jan.","Feb.","Mar.","Apr.","May.","Jun.","Jul.","Aug.","Sep.","Oct.","Nov.","Dec."],"scale":{"type":"band","paddingInner":0,"paddingOuter":0},"bandPosition":0.5,"axis":null},
    "y":{"field":"value","type":"quantitative","scale":{"domain":[0,267],"nice":false,"zero":false},"axis":{"title":"Huilongguan","titleX":-300,"titleY":128,"values":[100,200]}},
    "color":{"field":"activity","type":"nominal","scale":{"domain":["Socializing","Dining","Leisure","Shopping","Studying","Exercising","Working"],"range":["#59a14f","#76b7b2","#edc948","#f28e2b","#b07aa1","#e15759","#4e79a7"]}}}},
   {"mark":{"type":"rule","color":"#b0b0b0","strokeDash":[2,2],"strokeWidth":2},"encoding":{"y":{"datum":0,"type":"quantitative"}}}
  ]},
  {"width":1330,"height":305,"data":{"name":"we_sha"},"layer":[
   {"mark":{"type":"line","strokeWidth":3.5},"encoding":{
    "x":{"field":"month","type":"ordinal","sort":["Jan.","Feb.","Mar.","Apr.","May.","Jun.","Jul.","Aug.","Sep.","Oct.","Nov.","Dec."],"scale":{"type":"band","paddingInner":0,"paddingOuter":0},"bandPosition":0.5,"axis":null},
    "y":{"field":"value","type":"quantitative","scale":{"domain":[-3,51.2],"nice":false,"zero":false},"axis":{"title":"Shangdi","titleX":-300,"titleY":141,"values":[0,20,40]}},
    "color":{"field":"activity","type":"nominal","scale":{"domain":["Socializing","Dining","Leisure","Shopping","Studying","Exercising","Working"],"range":["#59a14f","#76b7b2","#edc948","#f28e2b","#b07aa1","#e15759","#4e79a7"]}}}},
   {"mark":{"type":"rule","color":"#b0b0b0","strokeDash":[2,2],"strokeWidth":2},"encoding":{"y":{"datum":0,"type":"quantitative"}}}
  ]},
  {"width":1330,"height":305,"data":{"name":"we_tia"},"layer":[
   {"mark":{"type":"line","strokeWidth":3.5},"encoding":{
    "x":{"field":"month","type":"ordinal","sort":["Jan.","Feb.","Mar.","Apr.","May.","Jun.","Jul.","Aug.","Sep.","Oct.","Nov.","Dec."],"scale":{"type":"band","paddingInner":0,"paddingOuter":0},"bandPosition":0.5,"axis":null},
    "y":{"field":"value","type":"quantitative","scale":{"domain":[-5.6,92.5],"nice":false,"zero":false},"axis":{"title":"Tiantongyuan","titleX":-300,"titleY":133,"values":[0,20,40,60,80]}},
    "color":{"field":"activity","type":"nominal","scale":{"domain":["Socializing","Dining","Leisure","Shopping","Studying","Exercising","Working"],"range":["#59a14f","#76b7b2","#edc948","#f28e2b","#b07aa1","#e15759","#4e79a7"]}}}},
   {"mark":{"type":"rule","color":"#b0b0b0","strokeDash":[2,2],"strokeWidth":2},"encoding":{"y":{"datum":0,"type":"quantitative"}}}
  ]},
  {"width":1330,"height":305,"data":{"name":"we_wan"},"layer":[
   {"mark":{"type":"line","strokeWidth":3.5},"encoding":{
    "x":{"field":"month","type":"ordinal","sort":["Jan.","Feb.","Mar.","Apr.","May.","Jun.","Jul.","Aug.","Sep.","Oct.","Nov.","Dec."],"scale":{"type":"band","paddingInner":0,"paddingOuter":0},"bandPosition":0.5,"axis":{"title":null}},
    "y":{"field":"value","type":"quantitative","scale":{"domain":[0,118.7],"nice":false,"zero":false},"axis":{"title":"Wangjing","titleX":-300,"titleY":121,"values":[0,50,100]}},
    "color":{"field":"activity","type":"nominal","scale":{"domain":["Socializing","Dining","Leisure","Shopping","Studying","Exercising","Working"],"range":["#59a14f","#76b7b2","#edc948","#f28e2b","#b07aa1","#e15759","#4e79a7"]}}}},
   {"mark":{"type":"rule","color":"#b0b0b0","strokeDash":[2,2],"strokeWidth":2},"encoding":{"y":{"datum":0,"type":"quantitative"}}}
  ]}
 ]}
],
"config":{
 "font":"Liberation Serif",
 "view":{"stroke":"#d0d0d0","strokeWidth":2},
 "title":{"font":"Liberation Serif","fontSize":88,"fontWeight":"normal","color":"#000000","anchor":"start"},
 "axisY":{"labelFont":"Liberation Sans","labelFontSize":36,"labelColor":"#666666","ticks":false,"domain":false,"grid":true,"gridColor":"#eeeeee","gridWidth":2,"labelPadding":14,"labelFlush":12,"titleFont":"Liberation Serif","titleFontSize":45,"titleFontWeight":"normal","titleColor":"#000000","titleAngle":0,"titleAlign":"left","titleBaseline":"middle"},
 "axisX":{"labelFont":"Liberation Serif","labelFontSize":30,"labelColor":"#000000","labelAngle":0,"domain":false,"grid":false,"ticks":true,"tickBand":"extent","tickColor":"#e0e0e0","tickSize":8,"tickWidth":2,"labelPadding":22},
 "legend":{"titleFont":"Liberation Serif","titleFontSize":49,"titleFontWeight":"normal","titleColor":"#000000","titleAnchor":"end","titleLimit":600,"titlePadding":38,"labelFont":"Liberation Serif","labelFontSize":30,"labelColor":"#000000","symbolType":"square","symbolSize":580,"symbolStrokeWidth":0,"rowPadding":35,"labelOffset":16}
}
}
